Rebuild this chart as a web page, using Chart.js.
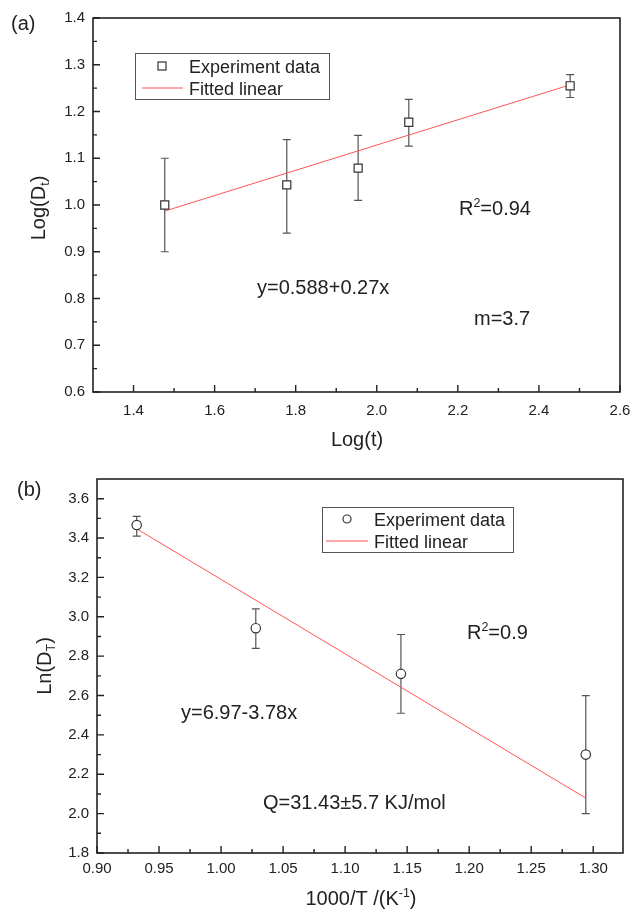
<!DOCTYPE html>
<html>
<head>
<meta charset="utf-8">
<script src="https://cdn.jsdelivr.net/npm/chart.js@4.4.1/dist/chart.umd.min.js"></script>
<style>
  body { margin: 0; background: #fff; }
  #wrap { position: relative; width: 634px; height: 916px; }
  .panel { position: absolute; left: 0; width: 634px; height: 458px; }
</style>
</head>
<body>
<div id="wrap">
  <div class="panel" style="top:0"><canvas id="chartA" width="634" height="458"></canvas></div>
  <div class="panel" style="top:458px"><canvas id="chartB" width="634" height="458"></canvas></div>
</div>
<script>
// ---- panel (a): Log(D_t) vs Log(t)
const logT = [1.477, 1.778, 1.954, 2.079, 2.477];
const logD = [1.0, 1.043, 1.079, 1.177, 1.255];
const logDLow = [0.90, 0.94, 1.01, 1.126, 1.23];
const logDHigh = [1.10, 1.14, 1.149, 1.226, 1.279];
const fitAx = [1.477, 2.477];
const fitAy = [0.987, 1.257];
const xTicksA = [1.4, 1.6, 1.8, 2.0, 2.2, 2.4, 2.6];
const yTicksA = [0.6, 0.7, 0.8, 0.9, 1.0, 1.1, 1.2, 1.3, 1.4];

// ---- panel (b): Ln(D_T) vs 1000/T
const invT = [0.932, 1.028, 1.145, 1.294];
const lnD = [3.466, 2.942, 2.71, 2.30];
const lnDLow = [3.41, 2.84, 2.51, 2.0];
const lnDHigh = [3.51, 3.04, 2.91, 2.6];
const fitBx = [0.932, 1.294];
const fitBy = [3.447, 2.079];
const xTicksB = [0.90, 0.95, 1.00, 1.05, 1.10, 1.15, 1.20, 1.25, 1.30];
const yTicksB = [1.8, 2.0, 2.2, 2.4, 2.6, 2.8, 3.0, 3.2, 3.4, 3.6];

const FONT = "'Liberation Sans', Arial, sans-serif";
const INK = '#222';
const MARK = '#333';
const BAR = '#555';
const RED = 'rgb(255,85,85)';

function pts(xs, ys) { return xs.map((x, i) => ({ x: x, y: ys[i] })); }

function mids(ticks) {
  const out = [];
  for (let i = 0; i < ticks.length - 1; i++) out.push((ticks[i] + ticks[i + 1]) / 2);
  return out;
}

function segWidth(ctx, segs, size) {
  let w = 0;
  segs.forEach(s => {
    const fs = (s.sub || s.sup) ? size * 0.62 : size;
    ctx.font = fs + 'px ' + FONT;
    w += ctx.measureText(s.t).width;
  });
  return w;
}

// draws text with sub/superscripts; x,y = baseline anchor
function drawRich(ctx, segs, x, y, size, align, rotate) {
  ctx.save();
  ctx.translate(x, y);
  if (rotate) ctx.rotate(-Math.PI / 2);
  ctx.fillStyle = INK;
  ctx.textBaseline = 'alphabetic';
  ctx.textAlign = 'left';
  let cx = align === 'center' ? -segWidth(ctx, segs, size) / 2 : 0;
  segs.forEach(s => {
    const fs = (s.sub || s.sup) ? size * 0.62 : size;
    ctx.font = fs + 'px ' + FONT;
    const dy = s.sub ? size * 0.22 : (s.sup ? -size * 0.42 : 0);
    ctx.fillText(s.t, cx, dy);
    cx += ctx.measureText(s.t).width;
  });
  ctx.restore();
}

function makeDeco(spec) {
  return {
    id: 'deco',
    beforeDatasetsDraw(chart) {
      const ctx = chart.ctx, xs = chart.scales.x, ys = chart.scales.y;
      ctx.save();
      ctx.strokeStyle = BAR;
      ctx.lineWidth = 1.2;
      spec.ex.forEach((xv, i) => {
        const px = xs.getPixelForValue(xv);
        const lo = ys.getPixelForValue(spec.lo[i]);
        const hi = ys.getPixelForValue(spec.hi[i]);
        ctx.beginPath();
        ctx.moveTo(px, lo); ctx.lineTo(px, hi);
        ctx.moveTo(px - 4, lo); ctx.lineTo(px + 4, lo);
        ctx.moveTo(px - 4, hi); ctx.lineTo(px + 4, hi);
        ctx.stroke();
      });
      ctx.restore();
    },
    afterDraw(chart) {
      const ctx = chart.ctx, a = chart.chartArea;
      const xs = chart.scales.x, ys = chart.scales.y;
      ctx.save();
      // frame
      ctx.strokeStyle = INK;
      ctx.lineWidth = 1.6;
      ctx.strokeRect(a.left, a.top, a.right - a.left, a.bottom - a.top);
      // inward ticks
      ctx.lineWidth = 1.4;
      ctx.beginPath();
      spec.xt.forEach(v => { const p = xs.getPixelForValue(v); ctx.moveTo(p, a.bottom); ctx.lineTo(p, a.bottom - 7); });
      mids(spec.xt).forEach(v => { const p = xs.getPixelForValue(v); ctx.moveTo(p, a.bottom); ctx.lineTo(p, a.bottom - 4); });
      spec.yt.forEach(v => { const p = ys.getPixelForValue(v); ctx.moveTo(a.left, p); ctx.lineTo(a.left + 7, p); });
      mids(spec.yt).forEach(v => { const p = ys.getPixelForValue(v); ctx.moveTo(a.left, p); ctx.lineTo(a.left + 4, p); });
      ctx.stroke();

      // legend
      const L = spec.legend;
      ctx.strokeStyle = '#555';
      ctx.lineWidth = 1;
      ctx.strokeRect(L.x0 + 0.5, L.y0 + 0.5, L.x1 - L.x0, L.y1 - L.y0);
      const ds = chart.data.datasets;
      ctx.strokeStyle = MARK;
      ctx.fillStyle = '#fff';
      ctx.lineWidth = 1.2;
      if (spec.circle) {
        ctx.beginPath(); ctx.arc(L.mx, L.r1, 4, 0, Math.PI * 2); ctx.fill(); ctx.stroke();
      } else {
        ctx.fillRect(L.mx - 4, L.r1 - 4, 8, 8); ctx.strokeRect(L.mx - 4, L.r1 - 4, 8, 8);
      }
      ctx.strokeStyle = RED;
      ctx.lineWidth = 1;
      ctx.beginPath(); ctx.moveTo(L.l0, L.r2); ctx.lineTo(L.l1, L.r2); ctx.stroke();
      drawRich(ctx, [{ t: ds[0].label }], L.tx, L.r1 + 6.5, 18, 'left');
      drawRich(ctx, [{ t: ds[1].label }], L.tx, L.r2 + 6.5, 18, 'left');

      // texts and titles
      spec.texts.forEach(t => drawRich(ctx, t.segs, t.x, t.y, t.size, t.align, t.rot));
      ctx.restore();
    }
  };
}

function makeChart(id, d) {
  return new Chart(document.getElementById(id), {
    type: 'scatter',
    data: {
      datasets: [{
        label: 'Experiment data',
        data: pts(d.ex, d.ey),
        pointStyle: d.circle ? 'circle' : 'rect',
        pointRadius: d.circle ? 4.7 : 5.7,
        pointBackgroundColor: '#fff',
        pointBorderColor: MARK,
        pointBorderWidth: 1.2,
        showLine: false
      }, {
        label: 'Fitted linear',
        data: pts(d.fx, d.fy),
        showLine: true,
        borderColor: RED,
        borderWidth: 1,
        pointRadius: 0
      }]
    },
    options: {
      responsive: false,
      animation: false,
      layout: { autoPadding: false, padding: d.pad },
      plugins: { legend: { display: false }, tooltip: { enabled: false } },
      scales: {
        x: {
          type: 'linear', min: d.xmin, max: d.xmax,
          afterBuildTicks: s => { s.ticks = d.xt.map(v => ({ value: v })); },
          afterFit: s => { s.height = d.xh; s.paddingLeft = 0; s.paddingRight = 0; },
          grid: { display: false, drawTicks: false },
          border: { display: false },
          ticks: { padding: d.xpad, color: INK, font: { family: FONT, size: 15 }, maxRotation: 0, autoSkip: false,
                   callback: v => v.toFixed(d.xdec) }
        },
        y: {
          type: 'linear', min: d.ymin, max: d.ymax,
          afterBuildTicks: s => { s.ticks = d.yt.map(v => ({ value: v })); },
          afterFit: s => { s.width = d.yw; s.paddingTop = 0; s.paddingBottom = 0; },
          grid: { display: false, drawTicks: false },
          border: { display: false },
          ticks: { padding: 8, color: INK, font: { family: FONT, size: 15 }, autoSkip: false,
                   callback: v => v.toFixed(1) }
        }
      }
    },
    plugins: [makeDeco(d)]
  });
}

makeChart('chartA', {
  ex: logT, ey: logD, lo: logDLow, hi: logDHigh, fx: fitAx, fy: fitAy,
  xt: xTicksA, yt: yTicksA, xmin: 1.3, xmax: 2.6, ymin: 0.6, ymax: 1.4,
  xdec: 1, pad: { top: 18, right: 14, left: 0, bottom: 0 }, xh: 66, yw: 93, xpad: 10,
  circle: false,
  legend: { x0: 135, y0: 53, x1: 329, y1: 99, r1: 66, r2: 88, mx: 162, l0: 142, l1: 183, tx: 189 },
  texts: [
    { segs: [{ t: '(a)' }], x: 11, y: 30, size: 20, align: 'left' },
    { segs: [{ t: 'R' }, { t: '2', sup: true }, { t: '=0.94' }], x: 459, y: 215, size: 20, align: 'left' },
    { segs: [{ t: 'y=0.588+0.27x' }], x: 257, y: 294, size: 20, align: 'left' },
    { segs: [{ t: 'm=3.7' }], x: 474, y: 325, size: 20, align: 'left' },
    { segs: [{ t: 'Log(t)' }], x: 357, y: 446, size: 20, align: 'center' },
    { segs: [{ t: 'Log(D' }, { t: 't', sub: true }, { t: ')' }], x: 45, y: 208, size: 20, align: 'center', rot: true }
  ]
});

makeChart('chartB', {
  ex: invT, ey: lnD, lo: lnDLow, hi: lnDHigh, fx: fitBx, fy: fitBy,
  xt: xTicksB, yt: yTicksB, xmin: 0.9, xmax: 1.324, ymin: 1.8, ymax: 3.7,
  xdec: 2, pad: { top: 21, right: 11, left: 0, bottom: 0 }, xh: 63, yw: 97, xpad: 7,
  circle: true,
  legend: { x0: 322, y0: 49, x1: 513, y1: 94, r1: 61, r2: 83, mx: 347, l0: 326, l1: 368, tx: 374 },
  texts: [
    { segs: [{ t: '(b)' }], x: 17, y: 38, size: 20, align: 'left' },
    { segs: [{ t: 'R' }, { t: '2', sup: true }, { t: '=0.9' }], x: 467, y: 181, size: 20, align: 'left' },
    { segs: [{ t: 'y=6.97-3.78x' }], x: 181, y: 261, size: 20, align: 'left' },
    { segs: [{ t: 'Q=31.43±5.7 KJ/mol' }], x: 263, y: 351, size: 20, align: 'left' },
    { segs: [{ t: '1000/T /(K' }, { t: '-1', sup: true }, { t: ')' }], x: 361, y: 447, size: 20, align: 'center' },
    { segs: [{ t: 'Ln(D' }, { t: 'T', sub: true }, { t: ')' }], x: 51, y: 208, size: 20, align: 'center', rot: true }
  ]
});
</script>
</body>
</html>
